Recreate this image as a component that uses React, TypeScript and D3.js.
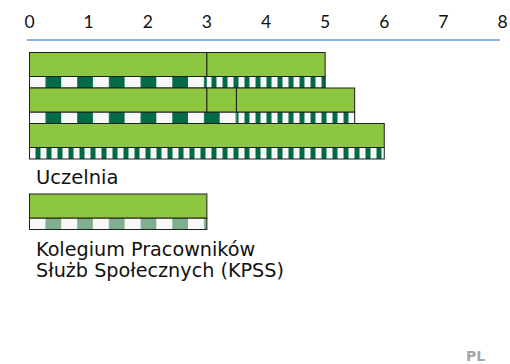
import React from "react";
import * as d3 from "d3";

const W = 510;
const H = 364;

const tickValues = [0, 1, 2, 3, 4, 5, 6, 7, 8];

// Uczelnia rows: green segments (start, end in years)
const uczelniaRows = [0, 1, 2];
const uczelniaSegments = [
  { row: 0, start: 0, end: 3 },
  { row: 0, start: 3, end: 5 },
  { row: 1, start: 0, end: 3 },
  { row: 1, start: 3, end: 3.5 },
  { row: 1, start: 3.5, end: 5.5 },
  { row: 2, start: 0, end: 6 },
];
const uczelniaStripes = [
  { row: 0, start: 0, end: 3, kind: "wide" },
  { row: 0, start: 3, end: 5, kind: "narrow" },
  { row: 1, start: 0, end: 3.5, kind: "wide" },
  { row: 1, start: 3.5, end: 5.5, kind: "narrow" },
  { row: 2, start: 0, end: 6, kind: "narrow" },
];
const kpssSegments = [{ start: 0, end: 3 }];
const kpssStripes = [{ start: 0, end: 3, kind: "light" }];

const uczelniaLabel = "Uczelnia";
const kpssLabel = ["Kolegium Pracowników", "Służb Społecznych (KPSS)"];
const countryLabel = "PL";

const GREEN = "#8DC63F";
const DARK = "#006B45";
const LIGHTDARK = "#7FAF8E";
const WHITE = "#F8F8F8";
const STROKE = "#1E1E1E";

export default function App() {
  const x = d3.scaleLinear().domain([0, 8]).range([29.5, 502.5]);
  const yRows = d3.scaleBand<number>().domain(uczelniaRows).range([52.5, 159]).paddingInner(0);
  const rowH = yRows.bandwidth();
  const greenH = 24;
  const stripeH = rowH - greenH;
  const kpssTop = 194;

  const rowExtent = (row: number) => {
    const segs = uczelniaSegments.filter((s) => s.row === row);
    return [d3.min(segs, (s) => s.start)!, d3.max(segs, (s) => s.end)!];
  };

  const fillFor = (kind: string) =>
    kind === "wide" ? "url(#pWide)" : kind === "narrow" ? "url(#pNarrow)" : "url(#pLight)";

  const x0 = x(0);
  const textFont = "'DejaVu Sans', Verdana, sans-serif";
  return (
    <svg
      width={W}
      height={H}
      style={{ position: "absolute", left: 0, top: 0, display: "block", background: "#fff" }}
    >
      <defs>
        <pattern id="pWide" patternUnits="userSpaceOnUse" x={x0} y={0} width={31.7} height={10}>
          <rect x={0} y={0} width={16} height={10} fill={WHITE} />
          <rect x={16} y={0} width={15.7} height={10} fill={DARK} />
        </pattern>
        <pattern id="pLight" patternUnits="userSpaceOnUse" x={x0} y={0} width={31.7} height={10}>
          <rect x={0} y={0} width={16} height={10} fill={WHITE} />
          <rect x={16} y={0} width={15.7} height={10} fill={LIGHTDARK} />
        </pattern>
        <pattern id="pNarrow" patternUnits="userSpaceOnUse" x={x0} y={0} width={11} height={10}>
          <rect x={0} y={0} width={6} height={10} fill={WHITE} />
          <rect x={6} y={0} width={5} height={10} fill={DARK} />
        </pattern>
      </defs>

      {/* axis */}
      <line x1={27} x2={500} y1={40} y2={40} stroke="#5B9BD5" strokeWidth={1.5} />
      {tickValues.map((t) => (
        <text
          key={t}
          x={x(t)}
          y={27.5}
          textAnchor="middle"
          fontFamily="Lato, 'Open Sans', sans-serif"
          fontSize={17.5}
          fill="#111"
        >
          {t}
        </text>
      ))}

      {/* Uczelnia stripes */}
      {uczelniaStripes.map((s, i) => (
        <rect
          key={"us" + i}
          x={x(s.start)}
          y={yRows(s.row)! + greenH}
          width={x(s.end) - x(s.start)}
          height={stripeH}
          fill={fillFor(s.kind)}
        />
      ))}
      {uczelniaRows.map((r) => {
        const [a, b] = rowExtent(r);
        return (
          <rect
            key={"ub" + r}
            x={x(a)}
            y={yRows(r)! + greenH}
            width={x(b) - x(a)}
            height={stripeH}
            fill="none"
            stroke={STROKE}
            strokeWidth={1}
          />
        );
      })}
      {uczelniaSegments.map((s, i) => (
        <rect
          key={"ug" + i}
          x={x(s.start)}
          y={yRows(s.row)!}
          width={x(s.end) - x(s.start)}
          height={greenH}
          fill={GREEN}
          stroke={STROKE}
          strokeWidth={1}
        />
      ))}

      <text x={36} y={184} fontFamily={textFont} fontSize={19.5} fill="#111">
        {uczelniaLabel}
      </text>

      {/* KPSS */}
      {kpssStripes.map((s, i) => (
        <rect
          key={"ks" + i}
          x={x(s.start)}
          y={kpssTop + greenH}
          width={x(s.end) - x(s.start)}
          height={stripeH}
          fill={fillFor(s.kind)}
          stroke={STROKE}
          strokeWidth={1}
        />
      ))}
      {kpssSegments.map((s, i) => (
        <rect
          key={"kg" + i}
          x={x(s.start)}
          y={kpssTop}
          width={x(s.end) - x(s.start)}
          height={greenH}
          fill={GREEN}
          stroke={STROKE}
          strokeWidth={1}
        />
      ))}

      <text x={36} y={256} fontFamily={textFont} fontSize={19.2} fill="#111">
        {kpssLabel[0]}
      </text>
      <text x={36} y={277} fontFamily={textFont} fontSize={19.2} fill="#111">
        {kpssLabel[1]}
      </text>

      <text
        x={475.5}
        y={361}
        textAnchor="middle"
        fontFamily={textFont}
        fontSize={14}
        fontWeight="bold"
        fill="#A6A6A6"
      >
        {countryLabel}
      </text>
    </svg>
  );
}
